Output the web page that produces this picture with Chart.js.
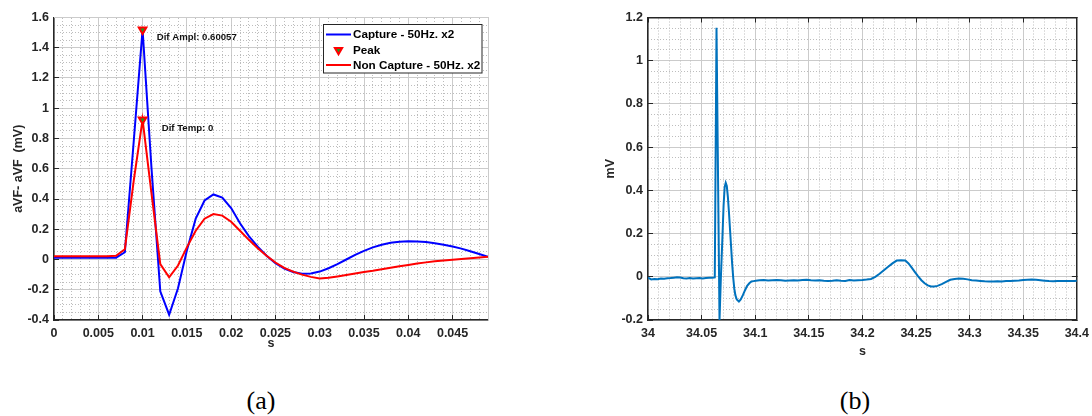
<!DOCTYPE html>
<html><head><meta charset="utf-8">
<script src="https://cdn.jsdelivr.net/npm/chart.js@4/dist/chart.umd.min.js"></script>
<style>
html,body{margin:0;padding:0;background:#fff;width:1092px;height:416px;overflow:hidden;position:relative}
#ca{position:absolute;left:0;top:0}
#cb{position:absolute;left:560px;top:0}
.cap{position:absolute;top:386px;width:100px;text-align:center;font-family:"Liberation Serif","DejaVu Serif",serif;font-size:26px;line-height:30px;color:#000}
</style></head><body>
<canvas id="ca" width="500" height="360"></canvas>
<canvas id="cb" width="540" height="360"></canvas>
<div class="cap" style="left:211px">(a)</div>
<div class="cap" style="left:805px">(b)</div>
<script>
// ---------------- data: chart (a) ----------------
const tA = [0,0.001,0.002,0.003,0.004,0.005,0.006,0.007,0.008,0.009,
  0.010,0.011,0.012,0.013,0.014,0.015,0.016,0.017,0.018,0.019,
  0.020,0.021,0.022,0.023,0.024,0.025,0.026,0.027,0.028,0.029,
  0.030,0.031,0.032,0.033,0.034,0.035,0.036,0.037,0.038,0.039,
  0.040,0.041,0.042,0.043,0.044,0.045,0.046,0.047,0.048,0.049];
const captureA = [0.012,0.012,0.012,0.012,0.012,0.012,0.012,0.012,0.048,0.78,
  1.52,0.61,-0.21,-0.365,-0.19,0.06,0.27,0.39,0.43,0.41,
  0.34,0.24,0.155,0.085,0.025,-0.025,-0.06,-0.083,-0.094,-0.093,
  -0.08,-0.058,-0.03,0.0,0.03,0.057,0.08,0.098,0.11,0.117,
  0.12,0.119,0.115,0.108,0.098,0.086,0.072,0.055,0.036,0.018];
const nonCaptureA = [0.022,0.022,0.022,0.022,0.022,0.022,0.022,0.025,0.068,0.52,
  0.925,0.44,-0.03,-0.118,-0.04,0.08,0.19,0.27,0.30,0.29,
  0.25,0.19,0.13,0.075,0.025,-0.02,-0.055,-0.08,-0.1,-0.115,
  -0.125,-0.121,-0.112,-0.102,-0.092,-0.083,-0.075,-0.065,-0.055,-0.045,
  -0.036,-0.027,-0.019,-0.012,-0.006,-0.001,0.004,0.009,0.014,0.018];
const peakT = [0.010, 0.010];
const peakV = [1.52, 0.925];
const labelsA = ['Capture - 50Hz. x2', 'Peak', 'Non Capture - 50Hz. x2'];
const notesA = ['Dif Ampl: 0.60057', 'Dif Temp: 0'];
const noteXA = [0.0116, 0.01216];
const noteYA = [1.47, 0.866];
const xTicksA = [0,0.005,0.01,0.015,0.02,0.025,0.03,0.035,0.04,0.045];
const xLabelsA = ['0','0.005','0.01','0.015','0.02','0.025','0.03','0.035','0.04','0.045'];
const yTicksA = [-0.4,-0.2,0,0.2,0.4,0.6,0.8,1,1.2,1.4,1.6];
const yLabelsA = ['-0.4','-0.2','0','0.2','0.4','0.6','0.8','1','1.2','1.4','1.6'];

// ---------------- data: chart (b) ----------------
const tB = [34.000,34.003,34.006,34.009,34.012,34.015,34.018,34.021,34.024,34.027,
  34.030,34.033,34.036,34.039,34.042,34.045,34.048,34.051,34.054,34.057,
  34.060,34.0623,34.0639,34.0667,34.0680,34.0694,34.0705,34.0715,34.0725,34.0735,
  34.0745,34.0755,34.0765,34.0775,34.0785,34.0795,34.0805,34.0815,34.0828,34.0848,
  34.0865,34.0885,34.0905,34.0925,34.0945,34.0965,34.0985,34.1005,
  34.104,34.108,34.112,34.116,34.120,34.124,34.128,34.132,34.136,34.140,
  34.144,34.148,34.152,34.156,34.160,34.164,34.168,34.172,34.176,34.180,
  34.184,34.188,34.192,34.196,34.200,34.204,34.208,34.212,34.216,34.220,
  34.224,34.228,34.232,34.236,34.240,34.243,34.246,34.249,34.252,34.255,
  34.258,34.261,34.264,34.267,34.270,34.274,34.278,34.282,34.286,34.290,
  34.294,34.298,34.302,34.306,34.310,34.314,34.318,34.322,34.326,34.330,
  34.334,34.338,34.342,34.346,34.350,34.354,34.358,34.362,34.366,34.370,
  34.374,34.378,34.382,34.386,34.390,34.394,34.398,34.400];
const ecgB = [-0.004,-0.012,-0.010,-0.011,-0.008,-0.009,-0.007,-0.006,-0.004,-0.002,
  -0.003,-0.007,-0.008,-0.006,-0.008,-0.007,-0.006,-0.008,-0.006,-0.005,
  -0.004,-0.003,1.153,-0.20,0.0,0.18,0.33,0.415,0.435,0.42,
  0.37,0.30,0.22,0.14,0.06,-0.005,-0.055,-0.085,-0.105,-0.115,
  -0.105,-0.085,-0.062,-0.042,-0.030,-0.022,-0.020,-0.018,
  -0.016,-0.015,-0.017,-0.016,-0.015,-0.016,-0.018,-0.017,-0.016,-0.017,
  -0.015,-0.014,-0.016,-0.017,-0.016,-0.018,-0.019,-0.018,-0.016,-0.018,
  -0.019,-0.015,-0.017,-0.016,-0.015,-0.013,-0.010,0.000,0.014,0.030,
  0.046,0.062,0.075,0.077,0.075,0.062,0.042,0.022,0.002,-0.016,
  -0.030,-0.040,-0.045,-0.045,-0.042,-0.034,-0.024,-0.014,-0.010,-0.008,
  -0.009,-0.012,-0.016,-0.017,-0.019,-0.021,-0.022,-0.022,-0.021,-0.022,
  -0.020,-0.019,-0.018,-0.017,-0.015,-0.014,-0.013,-0.014,-0.016,-0.018,
  -0.020,-0.021,-0.020,-0.019,-0.020,-0.019,-0.019,-0.018];
const xTicksB = [34,34.05,34.1,34.15,34.2,34.25,34.3,34.35,34.4];
const xLabelsB = ['34','34.05','34.1','34.15','34.2','34.25','34.3','34.35','34.4'];
const yTicksB = [-0.2,0,0.2,0.4,0.6,0.8,1,1.2];
const yLabelsB = ['-0.2','0','0.2','0.4','0.6','0.8','1','1.2'];

// ---------------- styling helpers ----------------
const FONT = "'Liberation Sans', Arial, Helvetica, sans-serif";
const AX = '#262626';
const MAJOR = '#cbcbcb';
const MINOR = '#bdbdbd';
const tickFont = {family: FONT, size: 12.5, weight: 'bold'};

function fixedTicks(vals) { return s => { s.ticks = vals.map(v => ({value: v})); }; }
function labelFrom(vals, labels) {
  return v => { const i = vals.findIndex(x => Math.abs(x - v) < 1e-9); return i >= 0 ? labels[i] : ''; };
}
function isMajor(v, origin, step) { const k = (v - origin) / step; return Math.abs(k - Math.round(k)) < 1e-6; }
function pts(xs, ys) { return xs.map((x, i) => ({x: x, y: ys[i]})); }

function mainX(min, max, ticks, labels, titlePadBottom) {
  return {
    type: 'linear', position: 'bottom', min: min, max: max,
    afterBuildTicks: fixedTicks(ticks),
    afterFit: s => { s.height = 40; },
    ticks: {callback: labelFrom(ticks, labels), font: tickFont, color: AX, padding: 11, maxRotation: 0, autoSkip: false},
    grid: {color: MAJOR, lineWidth: 1, tickLength: -5, tickColor: AX, tickWidth: 1},
    border: {color: AX, width: 1.5},
    title: {display: true, text: 's', font: tickFont, color: AX, padding: {top: 0, bottom: titlePadBottom}}
  };
}
function mainY(min, max, ticks, labels, width, title) {
  return {
    type: 'linear', position: 'left', min: min, max: max,
    afterBuildTicks: fixedTicks(ticks),
    afterFit: s => { s.width = width; },
    ticks: {callback: labelFrom(ticks, labels), font: tickFont, color: AX, padding: 10, autoSkip: false},
    grid: {color: MAJOR, lineWidth: 1, tickLength: -5, tickColor: AX, tickWidth: 1},
    border: {color: AX, width: 1.5},
    title: {display: true, text: title, font: tickFont, color: AX, padding: {top: 4.8, bottom: 0}}
  };
}
function minorAxis(axis, pos, min, max, step, origin, majorStep, borderColor, withTicks) {
  return {
    type: 'linear', axis: axis, position: pos, min: min, max: max,
    afterFit: s => { if (axis === 'x') s.height = 0; else s.width = 0; },
    ticks: {display: false, stepSize: step},
    grid: {
      color: c => isMajor(c.tick.value, origin, majorStep) ? 'rgba(0,0,0,0)' : MINOR,
      lineWidth: 1,
      drawTicks: withTicks, tickLength: -5, tickWidth: 1,
      tickColor: c => isMajor(c.tick.value, origin, majorStep) ? AX : 'rgba(0,0,0,0)'
    },
    border: {display: true, color: borderColor, width: withTicks ? 1.5 : 1, dash: [1, 2]}
  };
}

// ---------------- plugins ----------------
const legendBoxA = {
  id: 'legendBoxA',
  afterDatasetsDraw(chart) {
    const ctx = chart.ctx, ca = chart.chartArea;
    const w = 158.5, h = 48.5;
    const x0 = Math.round(ca.right - 7 - w) + 0.5, y0 = Math.round(ca.top + 6.5) + 0.5;
    ctx.save();
    ctx.fillStyle = '#fff';
    ctx.fillRect(x0, y0, w, h);
    ctx.strokeStyle = AX; ctx.lineWidth = 1;
    ctx.strokeRect(x0, y0, w, h);
    const rows = [10, 25.5, 40.5];
    const byLabel = l => chart.data.datasets.find(d => d.label === l);
    ctx.font = 'bold 11.7px ' + FONT;
    ctx.textBaseline = 'middle'; ctx.textAlign = 'left';
    labelsA.forEach((lab, i) => {
      const ds = byLabel(lab);
      const y = y0 + rows[i];
      if (ds.showLine === false) {
        const cx = x0 + 15, r = 4.2;
        ctx.beginPath();
        ctx.moveTo(cx - r * 0.866, y - r * 0.5);
        ctx.lineTo(cx + r * 0.866, y - r * 0.5);
        ctx.lineTo(cx, y + r);
        ctx.closePath();
        ctx.fillStyle = ds.backgroundColor; ctx.fill();
        ctx.strokeStyle = ds.borderColor; ctx.lineWidth = 2; ctx.stroke();
      } else {
        ctx.beginPath();
        ctx.moveTo(x0 + 2.5, y); ctx.lineTo(x0 + 27.5, y);
        ctx.strokeStyle = ds.borderColor; ctx.lineWidth = 2; ctx.stroke();
      }
      ctx.fillStyle = '#000';
      ctx.fillText(lab, x0 + 29.5, y + 0.5);
    });
    ctx.restore();
  }
};
const notesPluginA = {
  id: 'notesA',
  afterDatasetsDraw(chart) {
    const ctx = chart.ctx, xs = chart.scales.x, ys = chart.scales.y;
    ctx.save();
    ctx.font = 'bold 9.6px ' + FONT;
    ctx.fillStyle = '#111';
    ctx.textBaseline = 'middle'; ctx.textAlign = 'left';
    notesA.forEach((t, i) => ctx.fillText(t, xs.getPixelForValue(noteXA[i]), ys.getPixelForValue(noteYA[i])));
    ctx.restore();
  }
};

const common = {
  responsive: false, animation: false, devicePixelRatio: 1, events: [],
  plugins: {legend: {display: false}, tooltip: {enabled: false}, title: {display: false}},
  elements: {point: {radius: 0}, line: {tension: 0}}
};

// ---------------- chart (a) ----------------
new Chart(document.getElementById('ca'), {
  type: 'line',
  data: {datasets: [
    {label: labelsA[1], data: pts(peakT, peakV), showLine: false, pointStyle: 'triangle', rotation: 180,
     pointRadius: 4.4, backgroundColor: '#1f9a1f', borderColor: '#ff0000', pointBorderWidth: 2},
    {label: labelsA[2], data: pts(tA, nonCaptureA), borderColor: '#ff0000', backgroundColor: '#ff0000', borderWidth: 2, pointRadius: 0},
    {label: labelsA[0], data: pts(tA, captureA), borderColor: '#0000ff', backgroundColor: '#0000ff', borderWidth: 2, pointRadius: 0}
  ]},
  options: Object.assign({}, common, {
    layout: {padding: {left: 6, top: 16, right: 12, bottom: 0}},
    scales: {
      x: mainX(0, 0.049, xTicksA, xLabelsA, 9),
      y: mainY(-0.4, 1.6, yTicksA, yLabelsA, 48, 'aVF- aVF  (mV)'),
      xm: minorAxis('x', 'top', 0, 0.049, 0.001, 0, 0.005, MAJOR, false),
      ym: minorAxis('y', 'right', -0.4, 1.6, 0.05, 0, 0.2, MAJOR, false)
    }
  }),
  plugins: [legendBoxA, notesPluginA]
});

// ---------------- chart (b) ----------------
new Chart(document.getElementById('cb'), {
  type: 'line',
  data: {datasets: [
    {label: 'ECG', data: pts(tB, ecgB), borderColor: '#0072BD', backgroundColor: '#0072BD', borderWidth: 2, pointRadius: 0}
  ]},
  options: Object.assign({}, common, {
    layout: {padding: {left: 38, top: 16, right: 18, bottom: 0}},
    scales: {
      x: mainX(34, 34.4, xTicksB, xLabelsB, 1),
      y: mainY(-0.2, 1.2, yTicksB, yLabelsB, 50, 'mV'),
      xm: minorAxis('x', 'top', 34, 34.4, 0.01, 34, 0.05, AX, true),
      ym: minorAxis('y', 'right', -0.2, 1.2, 0.05, 0, 0.2, AX, true)
    }
  })
});
</script>
</body></html>
